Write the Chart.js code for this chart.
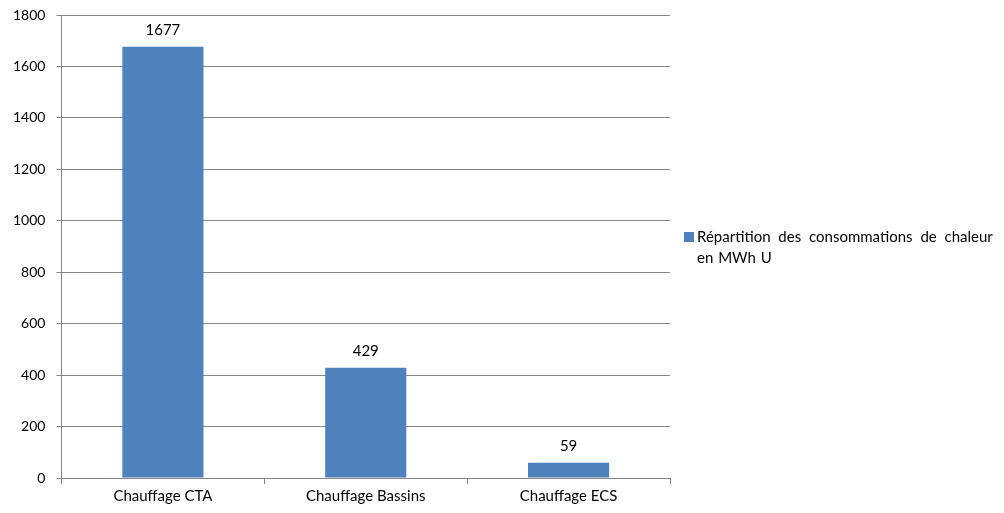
<!DOCTYPE html>
<html>
<head>
<meta charset="utf-8">
<script src="https://cdn.jsdelivr.net/npm/chart.js@4/dist/chart.umd.min.js"></script>
<style>
  body { margin: 0; background: #fff; }
</style>
</head>
<body>
<canvas id="myChart" width="1004" height="513"></canvas>
<script>
const categories = ["Chauffage CTA", "Chauffage Bassins", "Chauffage ECS"];
const values = [1677, 429, 59];
const seriesLabel = ["Répartition des consommations de chaleur", "en MWh U"];
const yTicks = [0, 200, 400, 600, 800, 1000, 1200, 1400, 1600, 1800];

const fontFamily = "Lato, 'Open Sans', sans-serif";
const barColor = "#4f81bd";

// value labels above the bars
const valueLabels = {
    id: "valueLabels",
    afterDatasetsDraw(chart) {
        const ctx = chart.ctx;
        const meta = chart.getDatasetMeta(0);
        ctx.save();
        ctx.font = "15px " + fontFamily;
        ctx.fillStyle = "#000";
        ctx.textAlign = "center";
        ctx.textBaseline = "bottom";
        meta.data.forEach((bar, i) => {
            ctx.fillText(values[i], bar.x, bar.y - 9);
        });
        ctx.restore();
    }
};

// legend on the right, text on two lines
const sideLegend = {
    id: "sideLegend",
    afterDraw(chart) {
        const ctx = chart.ctx;
        const x = 684, y = 237;
        ctx.save();
        ctx.fillStyle = barColor;
        ctx.fillRect(x, y - 5, 10, 10);
        ctx.font = "15px " + fontFamily;
        ctx.wordSpacing = "4px";
        ctx.fillStyle = "#000";
        ctx.textAlign = "left";
        ctx.textBaseline = "middle";
        ctx.fillText(seriesLabel[0], x + 13, y);
        ctx.wordSpacing = "1px";
        ctx.fillText(seriesLabel[1], x + 13, y + 21);
        ctx.restore();
    }
};

const myChart = new Chart(document.getElementById("myChart"), {
    type: "bar",
    data: {
        labels: categories,
        datasets: [{
            label: seriesLabel.join(" "),
            data: values,
            backgroundColor: barColor,
            categoryPercentage: 0.4,
            barPercentage: 1.0
        }]
    },
    options: {
        responsive: false,
        animation: false,
        layout: { padding: { top: 15, right: 334, left: 2, bottom: 5 } },
        plugins: {
            legend: { display: false },
            tooltip: { enabled: false }
        },
        scales: {
            x: {
                grid: {
                    offset: true,
                    drawOnChartArea: false,
                    drawTicks: true,
                    tickLength: 6,
                    color: "#868686"
                },
                border: { display: false },
                ticks: {
                    color: "#000",
                    font: { family: fontFamily, size: 15 },
                    padding: 3
                }
            },
            y: {
                min: 0,
                max: 1800,
                afterBuildTicks(axis) {
                    axis.ticks = yTicks.map((v) => ({ value: v }));
                },
                afterFit(axis) {
                    axis.paddingTop = 0;
                },
                grid: {
                    color: "#868686",
                    tickLength: 5
                },
                border: { display: true, color: "#868686" },
                ticks: {
                    color: "#000",
                    font: { family: fontFamily, size: 14 },
                    padding: 11,
                    callback: (v) => String(v)
                }
            }
        }
    },
    plugins: [valueLabels, sideLegend]
});
</script>
</body>
</html>
